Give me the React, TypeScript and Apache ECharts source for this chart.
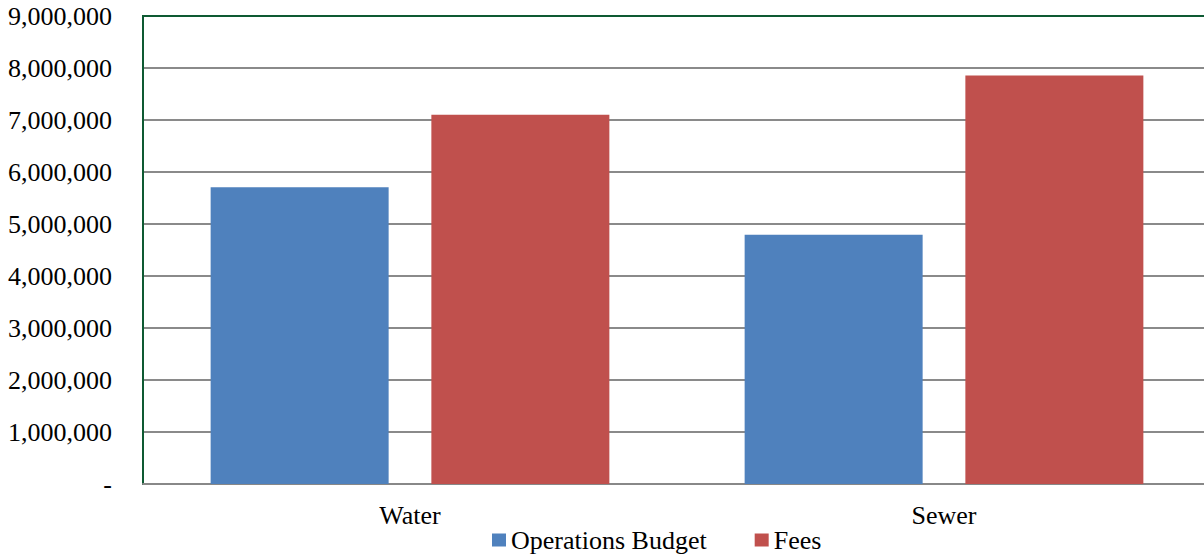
import React, { useEffect, useRef } from "react";
import * as echarts from "echarts";

const categories = ["Water", "Sewer"];
const operationsBudget = [5705000, 4795000];
const fees = [7100000, 7857000];
const seriesNames = ["Operations Budget", "Fees"];

const FONT = "Liberation Serif";

export default function App() {
  const ref = useRef<HTMLDivElement>(null);
  useEffect(() => {
    if (!ref.current) return;
    const chart = echarts.init(ref.current, undefined, { renderer: "svg" });
    chart.setOption({
      animation: false,
      textStyle: { fontFamily: FONT },
      grid: {
        left: 143,
        width: 1068,
        top: 16,
        bottom: 73,
        outerBoundsMode: "none",
        containLabel: false,
        show: true,
        borderColor: "#0E5A33",
        borderWidth: 2,
        backgroundColor: "transparent",
      },
      legend: {
        data: seriesNames,
        left: 487,
        top: 522,
        itemWidth: 14,
        itemHeight: 13,
        itemGap: 48,
        icon: "rect",
        textStyle: { fontFamily: FONT, fontSize: 26, color: "#000" },
      },
      xAxis: {
        type: "category",
        data: categories,
        axisTick: { show: false },
        axisLine: { lineStyle: { color: "#888888", width: 2 } },
        axisLabel: { fontFamily: FONT, fontSize: 26, color: "#000", margin: 18 },
      },
      yAxis: {
        type: "value",
        min: 0,
        max: 9000000,
        interval: 1000000,
        axisLine: { show: true, lineStyle: { color: "#0E5A33", width: 2 } },
        axisTick: { show: false },
        splitLine: { showMaxLine: false, lineStyle: { color: "#8A8A8A", width: 2 } },
        axisLabel: {
          fontFamily: FONT,
          fontSize: 26,
          color: "#000",
          margin: 31,
          formatter: (v: number) => (v === 0 ? "-" : v.toLocaleString("en-US")),
        },
      },
      series: [
        {
          name: seriesNames[0],
          type: "bar",
          data: operationsBudget,
          barWidth: 178,
          barGap: "24%",
          itemStyle: { color: "#4F81BD" },
        },
        {
          name: seriesNames[1],
          type: "bar",
          data: fees,
          barWidth: 178,
          barGap: "24%",
          itemStyle: { color: "#C0504D" },
        },
      ],
    });
    return () => chart.dispose();
  }, []);
  return <div ref={ref} style={{ width: 1204, height: 557, position: "absolute", left: 0, top: 0 }} />;
}
